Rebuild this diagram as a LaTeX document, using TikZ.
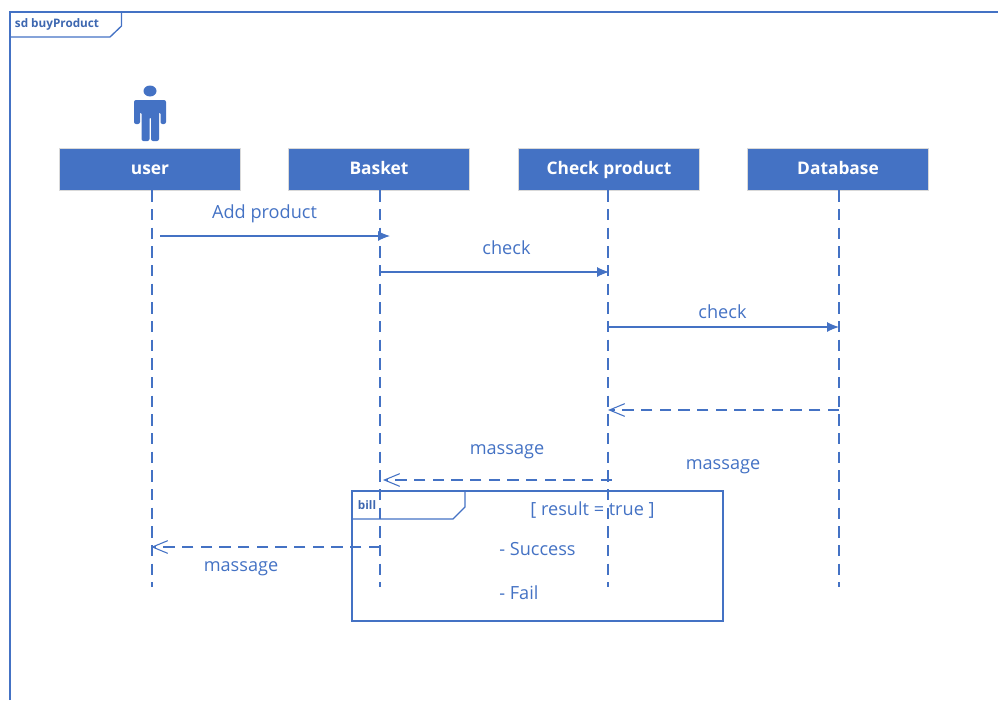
\documentclass[tikz,border=0pt]{standalone}
\usepackage{fontspec}
\setmainfont{Open Sans}
\usepackage{xcolor}
\usetikzlibrary{arrows.meta,positioning}
\definecolor{umlblue}{HTML}{4472C4}
\tikzstyle{headbox} = [rectangle, draw=black!15, line width=0.6pt, fill=umlblue, text=white, text centered, font=\bfseries\fontsize{13}{15}\selectfont, text height=11pt, text depth=2.5pt, minimum width=135.75pt, minimum height=31.5pt]
\tikzstyle{textonly} = [draw=none, fill=none, inner sep=0pt, text=umlblue, text centered, font=\fontsize{13.6}{16}\selectfont, text height=13pt, text depth=3pt]
\tikzstyle{tabtext} = [draw=none, fill=none, inner sep=0pt, text=umlblue!90!black, font=\bfseries\fontsize{8.8}{10}\selectfont, text height=8pt, text depth=2pt]
\tikzstyle{lifeline} = [draw=umlblue, line width=0.8pt, dash pattern=on 8.5pt off 5.5pt]
\tikzstyle{tedge} = [draw=umlblue, line width=0.8pt, -{Latex[length=9pt,width=7.5pt]}]
\tikzstyle{redge} = [draw=umlblue, line width=0.8pt, dash pattern=on 8.5pt off 5.5pt, -{Straight Barb[length=11.5pt,width=9.5pt]}]
\tikzstyle{frameline} = [draw=umlblue, line width=1pt]

\begin{document}
\begin{tikzpicture}[x=0.75pt, y=-0.75pt, on grid]
\useasboundingbox (0,0) rectangle (998,700);

% frames =================================

\draw[frameline] (10,700) -- (10,12) -- (998,12);
\draw[frameline] (10,37) -- (110,37) -- (121.5,26) -- (121.5,12);
\node[tabtext] (sdlabel) at (57,23) {sd buyProduct};

% actor ==================================

\fill[umlblue] (150,91) ellipse (6.5 and 5.5);
\fill[umlblue, rounded corners=1.5pt] (134,124) -- (134,100) -- (166,100) -- (166,124) -- (160.5,124) -- (160.5,112) -- (159,112) -- (159,141) -- (151,141) -- (151,117) -- (149.5,117) -- (149.5,141) -- (141.5,141) -- (141.5,112) -- (140,112) -- (140,124) -- cycle;

% nodes ==================================

\node[headbox] (user) at (150,169) {user};
\node[headbox, right=171.75pt of user] (basket) {Basket};
\node[headbox, right=172.5pt of basket] (checkp) {Check product};
\node[headbox, right=171.75pt of checkp] (database) {Database};

\coordinate (userEnd) at (152,587);
\coordinate (basketEnd) at (380,587);
\coordinate (checkEnd) at (608,587);
\coordinate (dataEnd) at (839,587);

% message ends
\coordinate (add1) at (160,236);
\coordinate (add2) at (390,236);
\coordinate (chk1) at (380,272);
\coordinate (chk2) at (609,272);
\coordinate (chk3) at (608,327);
\coordinate (chk4) at (839,327);
\coordinate (ret1) at (839,410);
\coordinate (ret2) at (608,410);
\coordinate (ret3) at (612,480);
\coordinate (ret4) at (383,480);
\coordinate (ret5) at (380,547);
\coordinate (ret6) at (151,547);

% labels
\node[textonly] (addlabel) at (264.5,212) {Add product};
\node[textonly, below=27pt of addlabel, xshift=181.5pt] (chklabel1) {check};
\node[textonly, right=162pt of chklabel1, yshift=-48pt] (chklabel2) {check};
\node[textonly] (msglabel1) at (507,448) {massage};
\node[textonly, right=162pt of msglabel1, yshift=-11.25pt] (msglabel2) {massage};
\node[textonly] (msglabel3) at (241,565) {massage};

% edges ==================================

\draw[lifeline] (userEnd |- user.south) -- (userEnd);
\draw[lifeline] (basketEnd |- basket.south) -- (basketEnd);
\draw[lifeline] (checkEnd |- checkp.south) -- (checkEnd);
\draw[lifeline] (dataEnd |- database.south) -- (dataEnd);

\path[tedge] (add1) -- (add2);
\path[tedge] (chk1) -- (chk2);
\path[tedge] (chk3) -- (chk4);
\path[redge] (ret1) -- (ret2);
\path[redge] (ret3) -- (ret4);
\path[redge] (ret5) -- (ret6);

% bill fragment ==========================

\draw[frameline] (352,491) rectangle (723,621);
\draw[frameline] (352,519) -- (453,519) -- (465,507) -- (465,491);
\node[tabtext] (billlabel) at (367,505) {bill};
\node[textonly] (result) at (592.5,509) {[ result = true ]};
\node[textonly, anchor=west] (success) at (499,549) {- Success};
\node[textonly, anchor=west] (fail) at (499,593) {- Fail};

\end{tikzpicture}
\end{document}
